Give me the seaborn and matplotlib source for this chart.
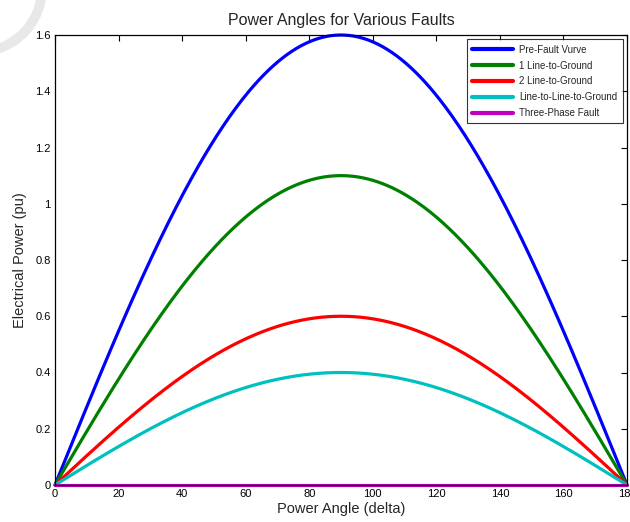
import numpy as np
import pandas as pd
import matplotlib
matplotlib.use("Agg")
import matplotlib.pyplot as plt
from matplotlib.patches import Arc
import seaborn as sns

# Power-angle curves P = Pmax * sin(delta) for each network condition
cases = ["Pre-Fault Vurve", "1 Line-to-Ground", "2 Line-to-Ground",
         "Line-to-Line-to-Ground", "Three-Phase Fault"]
pmax = [1.6, 1.1, 0.6, 0.4, 0.0]
colors = ["#0000ff", "#008000", "#ff0000", "#00bfbf", "#bf00bf"]
x_ticks = [0, 20, 40, 60, 80, 100, 120, 140, 160, 180]
y_ticks = [0, 0.2, 0.4, 0.6, 0.8, 1, 1.2, 1.4, 1.6]
y_tick_labels = ["0", "0.2", "0.4", "0.6", "0.8", "1", "1.2", "1.4", "1.6"]

delta = np.linspace(0, 180, 361)
frames = []
for name, pm in zip(cases, pmax):
    frames.append(pd.DataFrame({"delta": delta,
                                "P": pm * np.sin(np.radians(delta)),
                                "case": name}))
df = pd.concat(frames, ignore_index=True)

sns.set_theme(style="white")
plt.rcParams["font.family"] = ["Liberation Sans", "DejaVu Sans"]

W, H = 630, 522
fig = plt.figure(figsize=(W / 100, H / 100), dpi=100)

# faint decorative arc in the top-left corner, behind everything
arc = Arc((-22 / W, 1 + 12 / H), 128 / W, 128 / H, theta1=265, theta2=360,
          transform=fig.transFigure, color="#e8e8e8", linewidth=7, zorder=-5)
fig.add_artist(arc)

ax = fig.add_axes([55 / W, 37 / H, 572 / W, 450 / H])
ax.patch.set_alpha(0)

sns.lineplot(data=df, x="delta", y="P", hue="case", hue_order=cases,
             palette=colors, linewidth=2.3, ax=ax, sort=False, clip_on=False)

ax.set_xlim(0, 180)
ax.set_ylim(0, 1.6)
ax.set_xticks(x_ticks)
ax.set_yticks(y_ticks)
ax.set_yticklabels(y_tick_labels)
ax.tick_params(direction="in", length=4, width=0.8, top=True, right=True,
               labelsize=8, colors="black", pad=3)
for s in ax.spines.values():
    s.set_color("black")
    s.set_linewidth(0.9)

ax.set_title("Power Angles for Various Faults", fontsize=11.5, pad=7)
ax.set_xlabel("Power Angle (delta)", fontsize=10.5, labelpad=2)
ax.set_ylabel("Electrical Power (pu)", fontsize=10.5, labelpad=6)

leg = ax.legend(loc="upper right", fontsize=7, frameon=True, fancybox=False,
                borderaxespad=0.45, handlelength=4.2, handletextpad=0.6,
                labelspacing=0.6, borderpad=0.55)
leg.get_frame().set_edgecolor("black")
leg.get_frame().set_linewidth(0.8)
for line in leg.get_lines():
    line.set_linewidth(3)

fig.savefig("out.png", dpi=100)
